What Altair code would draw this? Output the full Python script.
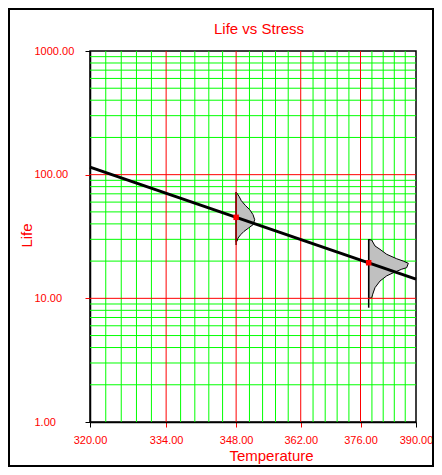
import altair as alt
import pandas as pd

FONT = "Liberation Sans"

# axis tick values
x_major = [320, 334, 348, 362, 376, 390]
x_red = [334, 348, 362, 376]
x_green = [322.8, 325.6, 328.4, 331.2, 336.8, 339.6, 342.4, 345.2,
           350.8, 353.6, 356.4, 359.2, 364.8, 367.6, 370.4, 373.2,
           378.8, 381.6, 384.4, 387.2]
y_major = [1, 10, 100, 1000]
y_red = [10, 100]
y_green = [2, 3, 4, 5, 6, 7, 8, 9, 20, 30, 40, 50, 60, 70, 80, 90,
           200, 300, 400, 500, 600, 700, 800, 900]

# life-stress line
line_temp = [320, 390]
line_life = [115.0, 14.3]

# data points
pt_temp = [348, 378]
pt_life = [45.2, 19.4]

# pdf outlines at each stress level
pdf1_base = 348
pdf1_life = [72.4, 66.9, 61.6, 56.5, 52.1, 47.5, 43.2, 39.4, 37.1, 34.8, 32.7, 30.7, 28.9, 28.5]
pdf1_temp = [348.0, 348.6, 349.08, 349.92, 350.85, 351.55, 351.91, 351.55, 350.64, 349.65, 348.95, 348.39, 348.18, 348.0]
pdf2_base = 378
pdf2_life = [29.9, 29.6, 26.5, 24.9, 22.7, 20.9, 20.0, 19.2, 17.7, 17.2, 16.1, 15.2, 13.8, 12.2, 10.8, 10.1, 10.0]
pdf2_temp = [378.0, 378.74, 379.56, 380.8, 382.48, 385.01, 386.71, 388.0, 387.58, 386.29, 384.15, 382.48, 380.8, 379.56, 378.99, 378.74, 378.0]

# vertical stress lines
stress_temp = [348, 378]
stress_top = [72.4, 30.0]
stress_bottom = [27.0, 8.4]

xscale = alt.Scale(type="pow", exponent=-1, domain=[320, 390], zero=False, nice=False)
yscale = alt.Scale(type="log", domain=[1, 1000], nice=False)

edge_color = {"condition": {"test": "datum.value == 320 || datum.value == 390", "value": "black"}, "value": "red"}
edge_color_y = {"condition": {"test": "datum.value == 1 || datum.value == 1000", "value": "black"}, "value": "red"}

x_axis = alt.Axis(values=x_major, format=".2f", grid=False, labelColor="red", labelFont=FONT,
                  labelFontSize=11, labelFlush=False, labelPadding=7, tickSize=5,
                  tickColor=edge_color, domainColor="black", domainWidth=1.5,
                  title="Temperature", titleColor="red", titleFont=FONT, titleFontSize=15,
                  titleFontWeight="normal", titleX=181, titleY=38, titleAlign="center",
                  titleBaseline="alphabetic")
y_axis = alt.Axis(values=y_major, format=".2f", grid=False, labelColor="red", labelFont=FONT,
                  labelFontSize=11, labelAlign="left", labelPadding=51, tickSize=5,
                  tickColor=edge_color_y, domainColor="black", domainWidth=1.5,
                  title="Life", titleColor="red", titleFont=FONT, titleFontSize=15,
                  titleFontWeight="normal", titleX=-59, titleY=184, titleAngle=270,
                  titleAlign="center", titleBaseline="alphabetic")


def X(field, **kw):
    return alt.X(field, scale=xscale, axis=x_axis, **kw)


def Y(field, **kw):
    return alt.Y(field, scale=yscale, axis=y_axis, **kw)


green_v = alt.Chart(pd.DataFrame({"t": x_green})).mark_rule(color="#00ff00", strokeWidth=1).encode(
    x=X("t:Q"))
green_h = alt.Chart(pd.DataFrame({"l": y_green})).mark_rule(color="#00ff00", strokeWidth=1).encode(
    y=Y("l:Q"))
red_v = alt.Chart(pd.DataFrame({"t": x_red})).mark_rule(color="#ff0000", strokeWidth=1).encode(
    x=X("t:Q"))
red_h = alt.Chart(pd.DataFrame({"l": y_red})).mark_rule(color="#ff0000", strokeWidth=1).encode(
    y=Y("l:Q"))

pdf_df = pd.concat([
    pd.DataFrame({"shape": "a", "life": pdf1_life, "temp": pdf1_temp, "base": pdf1_base}),
    pd.DataFrame({"shape": "b", "life": pdf2_life, "temp": pdf2_temp, "base": pdf2_base}),
])
pdf = alt.Chart(pdf_df).mark_area(orient="horizontal", fill="#c0c0c0", stroke="black",
                                  strokeWidth=1, opacity=1).encode(
    y=Y("life:Q"),
    x=X("temp:Q", stack=False),
    x2="base:Q",
    detail="shape:N",
)

stress = alt.Chart(pd.DataFrame({"t": stress_temp, "top": stress_top, "bot": stress_bottom})).mark_rule(
    color="black", strokeWidth=1.5).encode(
    x=X("t:Q"),
    y=Y("top:Q"),
    y2="bot:Q",
)

line = alt.Chart(pd.DataFrame({"t": line_temp, "l": line_life})).mark_line(
    color="black", strokeWidth=3).encode(
    x=X("t:Q"),
    y=Y("l:Q"),
)

points = alt.Chart(pd.DataFrame({"t": pt_temp, "l": pt_life})).mark_square(
    color="#ff0000", size=30, opacity=1).encode(
    x=X("t:Q"),
    y=Y("l:Q"),
)

frame = alt.Chart(pd.DataFrame({"k": [0]})).mark_rect(
    fillOpacity=0, stroke="black", strokeWidth=2).encode(
    x=alt.value(-81), x2=alt.value(343), y=alt.value(-42), y2=alt.value(415))

chart = alt.layer(green_v, green_h, pdf, stress, red_v, red_h, line, points, frame).properties(
    width=326, height=371,
    title=alt.TitleParams("Life vs Stress", color="red", font=FONT, fontSize=15,
                          fontWeight="normal", frame="group", anchor="middle", dx=6,
                          offset=-41, baseline="alphabetic"),
    autosize=alt.AutoSizeParams(type="none"),
    padding={"left": 82, "top": 43, "right": 18, "bottom": 45},
).configure(background="white").configure_view(stroke="black", strokeWidth=1.5)

chart.save("out.html", embed_options={"renderer": "svg", "actions": False})
